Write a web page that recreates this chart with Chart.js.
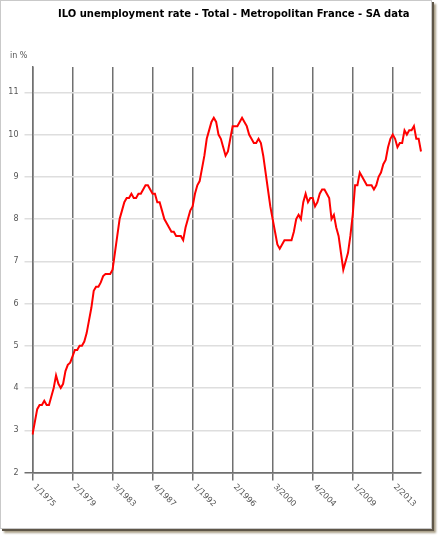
<!DOCTYPE html>
<html><head><meta charset="utf-8">
<script src="https://cdn.jsdelivr.net/npm/chart.js@4/dist/chart.umd.min.js"></script>
<style>
html,body{margin:0;padding:0;background:#fff;}
#wrap{position:relative;width:439px;height:538px;overflow:hidden;background:#fff;}
#frame{position:absolute;left:0;top:0;width:430px;height:527px;border:1px solid #c9c9c9;background:#fff;box-shadow:2px 2px 0 #5e5648,4px 4px 2px #a99f88;}
canvas{position:absolute;left:0;top:0;}
</style></head>
<body><div id="wrap"><div id="frame"></div><canvas id="c" width="439" height="538"></canvas></div>
<script>
const titleText = "ILO unemployment rate - Total - Metropolitan France - SA data";
const unitLabel = "in %";
const categories = [
"1/1975","2/1975","3/1975","4/1975","1/1976","2/1976","3/1976","4/1976",
"1/1977","2/1977","3/1977","4/1977","1/1978","2/1978","3/1978","4/1978",
"1/1979","2/1979","3/1979","4/1979","1/1980","2/1980","3/1980","4/1980",
"1/1981","2/1981","3/1981","4/1981","1/1982","2/1982","3/1982","4/1982",
"1/1983","2/1983","3/1983","4/1983","1/1984","2/1984","3/1984","4/1984",
"1/1985","2/1985","3/1985","4/1985","1/1986","2/1986","3/1986","4/1986",
"1/1987","2/1987","3/1987","4/1987","1/1988","2/1988","3/1988","4/1988",
"1/1989","2/1989","3/1989","4/1989","1/1990","2/1990","3/1990","4/1990",
"1/1991","2/1991","3/1991","4/1991","1/1992","2/1992","3/1992","4/1992",
"1/1993","2/1993","3/1993","4/1993","1/1994","2/1994","3/1994","4/1994",
"1/1995","2/1995","3/1995","4/1995","1/1996","2/1996","3/1996","4/1996",
"1/1997","2/1997","3/1997","4/1997","1/1998","2/1998","3/1998","4/1998",
"1/1999","2/1999","3/1999","4/1999","1/2000","2/2000","3/2000","4/2000",
"1/2001","2/2001","3/2001","4/2001","1/2002","2/2002","3/2002","4/2002",
"1/2003","2/2003","3/2003","4/2003","1/2004","2/2004","3/2004","4/2004",
"1/2005","2/2005","3/2005","4/2005","1/2006","2/2006","3/2006","4/2006",
"1/2007","2/2007","3/2007","4/2007","1/2008","2/2008","3/2008","4/2008",
"1/2009","2/2009","3/2009","4/2009","1/2010","2/2010","3/2010","4/2010",
"1/2011","2/2011","3/2011","4/2011","1/2012","2/2012","3/2012","4/2012",
"1/2013","2/2013","3/2013","4/2013","1/2014","2/2014","3/2014","4/2014",
"1/2015","2/2015","3/2015","4/2015","1/2016","2/2016"];
const unemploymentRate = [
2.9,3.2,3.5,3.6, 3.6,3.7,3.6,3.6, 3.8,4.0,4.3,4.1, 4.0,4.1,4.4,4.55,
4.6,4.75,4.9,4.9, 5.0,5.0,5.1,5.3, 5.6,5.9,6.3,6.4, 6.4,6.5,6.65,6.7,
6.7,6.7,6.8,7.2, 7.6,8.0,8.2,8.4, 8.5,8.5,8.6,8.5, 8.5,8.6,8.6,8.7,
8.8,8.8,8.7,8.6, 8.6,8.4,8.4,8.2, 8.0,7.9,7.8,7.7, 7.7,7.6,7.6,7.6,
7.5,7.8,8.0,8.2, 8.3,8.6,8.8,8.9, 9.2,9.5,9.9,10.1, 10.3,10.4,10.3,10.0,
9.9,9.7,9.5,9.6, 9.9,10.2,10.2,10.2, 10.3,10.4,10.3,10.2, 10.0,9.9,9.8,9.8,
9.9,9.8,9.5,9.1, 8.7,8.3,8.0,7.7, 7.4,7.3,7.4,7.5, 7.5,7.5,7.5,7.7,
8.0,8.1,8.0,8.4, 8.6,8.4,8.5,8.5, 8.3,8.4,8.6,8.7, 8.7,8.6,8.5,8.0,
8.1,7.8,7.6,7.2, 6.8,7.0,7.2,7.6, 8.1,8.8,8.8,9.1, 9.0,8.9,8.8,8.8,
8.8,8.7,8.8,9.0, 9.1,9.3,9.4,9.7, 9.9,10.0,9.9,9.7, 9.8,9.8,10.1,10.0,
10.1,10.1,10.2,9.9, 9.9,9.6];
const tickLabels = ["1/1975","2/1979","3/1983","4/1987","1/1992","2/1996","3/2000","4/2004","1/2009","2/2013"];
const yMin = 2, yMax = 11.6;

const textPlugin = {
  id: 'texts',
  afterDraw(chart) {
    const ctx = chart.ctx;
    const xs = chart.scales.x;
    ctx.save();
    ctx.fillStyle = '#000';
    ctx.font = 'bold 10px "DejaVu Sans"';
    ctx.textAlign = 'left';
    ctx.textBaseline = 'middle';
    ctx.fillText(titleText, 58, 14);
    ctx.fillStyle = '#555';
    ctx.font = '8px "DejaVu Sans"';
    ctx.fillText(unitLabel, 10, 56);
    tickLabels.forEach(lbl => {
      const idx = categories.indexOf(lbl);
      const x = xs.getPixelForValue(idx);
      ctx.save();
      ctx.translate(x + 2, xs.top + 13);
      ctx.rotate(Math.PI / 4);
      ctx.textAlign = 'left';
      ctx.textBaseline = 'middle';
      ctx.fillText(lbl, 0, 0);
      ctx.restore();
    });
    ctx.restore();
  }
};

new Chart(document.getElementById('c'), {
  type: 'line',
  data: {
    labels: categories,
    datasets: [{
      data: unemploymentRate,
      borderColor: '#ff0000',
      borderWidth: 2,
      pointRadius: 0,
      tension: 0,
      fill: false
    }]
  },
  options: {
    responsive: false,
    animation: false,
    devicePixelRatio: 1,
    layout: { padding: { top: 67, right: 18, bottom: 0, left: 0 } },
    plugins: { legend: { display: false }, title: { display: false }, tooltip: { enabled: false } },
    scales: {
      x: {
        type: 'category',
        offset: false,
        afterFit(s) { s.height = 538 - 472.5; },
        ticks: { display: false },
        grid: {
          drawTicks: true,
          tickLength: 8,
          lineWidth: 1.5,
          color: c => (c.tick && tickLabels.includes(categories[c.index])) ? '#707070' : 'rgba(0,0,0,0)'
        },
        border: { display: true, color: '#707070', width: 1.5 }
      },
      y: {
        min: yMin, max: yMax,
        afterBuildTicks(s) { s.ticks = s.ticks.filter(t => Number.isInteger(t.value)); },
        afterFit(s) { s.width = 32.5; },
        ticks: { stepSize: 1, color: '#555', font: { family: 'DejaVu Sans', size: 8 }, padding: 6 },
        grid: {
          tickLength: 8,
          lineWidth: 1.5,
          color: c => (c.tick && c.tick.value === 2) ? '#707070' : '#dedede'
        },
        border: { display: true, color: '#707070', width: 1.5 }
      }
    }
  },
  plugins: [textPlugin]
});
</script></body></html>
